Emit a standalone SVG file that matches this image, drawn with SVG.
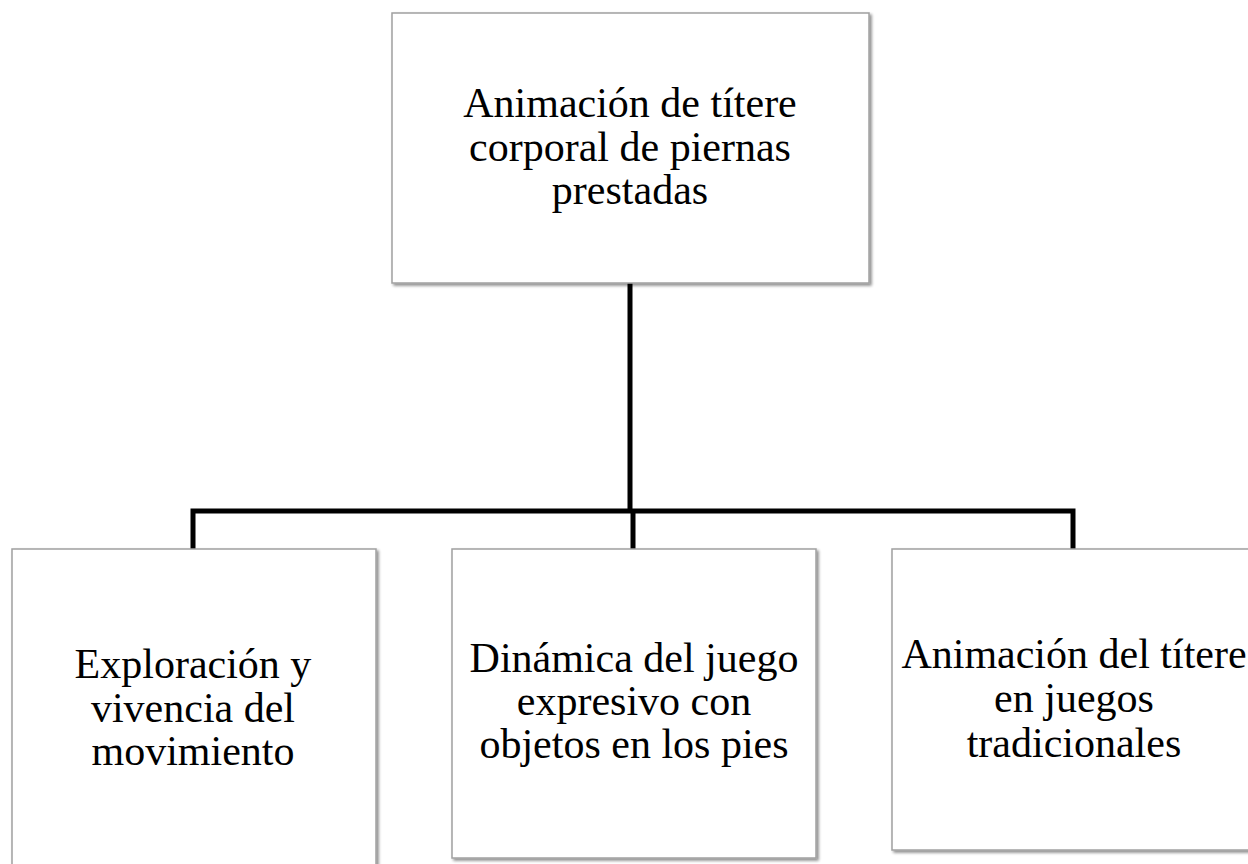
<svg xmlns="http://www.w3.org/2000/svg" width="1248" height="864" viewBox="0 0 1248 864">
<defs>
<filter id="sh" x="-5%" y="-5%" width="115%" height="115%">
<feGaussianBlur in="SourceAlpha" stdDeviation="1.5"/>
<feOffset dx="1.5" dy="2" result="b"/>
<feComponentTransfer><feFuncA type="linear" slope="0.45"/></feComponentTransfer>
<feMerge><feMergeNode/><feMergeNode in="SourceGraphic"/></feMerge>
</filter>
</defs>
<style>
.box{fill:#fff;stroke:#a0a0a0;stroke-width:1.5;filter:url(#sh)}
.t{font-family:"Liberation Serif","Times New Roman",serif;font-size:42px;fill:#000;text-anchor:middle}
.c{fill:none;stroke:#000;stroke-width:5;stroke-linejoin:miter}
</style>
<rect width="1248" height="864" fill="#fff"/>
<g id="connectors">
<path class="c" d="M630 283 V511"/>
<path class="c" d="M193 549 V511 H1073 V549"/>
<path class="c" d="M633 511 V549"/>
</g>
<g id="root">
<rect class="box" x="392" y="13" width="477" height="270"/>
<text class="t" x="630" y="117">Animación de títere</text>
<text class="t" x="630" y="161">corporal de piernas</text>
<text class="t" x="630" y="204">prestadas</text>
</g>
<g id="n1">
<rect class="box" x="12" y="549" width="364" height="330"/>
<text class="t" x="193" y="678">Exploración y</text>
<text class="t" x="193" y="722">vivencia del</text>
<text class="t" x="193" y="765">movimiento</text>
</g>
<g id="n2">
<rect class="box" x="452" y="549" width="364" height="309"/>
<text class="t" x="634" y="672">Dinámica del juego</text>
<text class="t" x="634" y="715">expresivo con</text>
<text class="t" x="634" y="758">objetos en los pies</text>
</g>
<g id="n3">
<rect class="box" x="892" y="549" width="370" height="301"/>
<text class="t" x="1074" y="668">Animación del títere</text>
<text class="t" x="1074" y="712">en juegos</text>
<text class="t" x="1074" y="757">tradicionales</text>
</g>
</svg>
